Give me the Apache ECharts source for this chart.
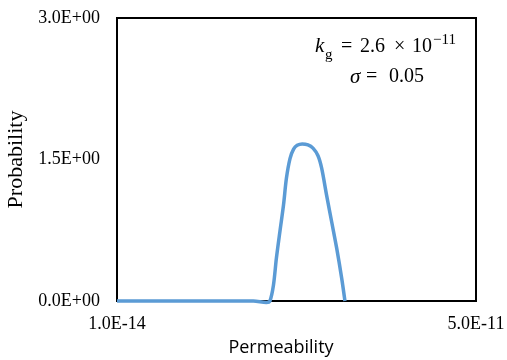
<!DOCTYPE html>
<html>
<head>
<meta charset="utf-8">
<script src="https://cdn.jsdelivr.net/npm/echarts@6/dist/echarts.min.js"></script>
<style>
  html, body { margin: 0; padding: 0; background: #fff; }
  #chart { width: 507px; height: 360px; }
</style>
</head>
<body>
<div id="chart"></div>
<script>
// permeability (m2) and probability
const permeability = [1.0e-14, 1.90e-11, 2.08e-11, 2.13e-11, 2.18e-11, 2.22e-11, 2.27e-11, 2.32e-11, 2.36e-11, 2.41e-11, 2.46e-11, 2.51e-11, 2.58e-11, 2.66e-11, 2.73e-11, 2.80e-11, 2.85e-11, 2.92e-11, 2.99e-11, 3.06e-11, 3.13e-11, 3.175e-11]
const probability = [0, 0, -0.015, 0.0, 0.17, 0.45, 0.74, 1.02, 1.30, 1.51, 1.61, 1.65, 1.665, 1.655, 1.62, 1.54, 1.41, 1.12, 0.84, 0.56, 0.24, 0.0]
const xTicks = [1.0e-14, 5.0e-11]
const yTicks = [0, 1.5, 3.0]

const fmtExp = (v) => {
  const s = Number(v).toExponential(1).toUpperCase()
  const [m, e] = s.split('E')
  const sign = e[0] === '-' ? '-' : '+'
  const digits = e.replace(/[+-]/, '').padStart(2, '0')
  return m + 'E' + sign + digits
}

const serif = '"Liberation Serif", "Times New Roman", serif'
const txt = (text, left, top, font) => ({ type: 'text', left, top, style: { text, font: font + ' ' + serif, fill: '#000' } })

var myChart = echarts.init(document.getElementById('chart'))
const option = {
  animation: false,
  grid: {
    left: 117,
    right: 31,
    top: 18,
    bottom: 59,
    outerBoundsMode: 'none',
    containLabel: false,
    show: true,
    borderColor: '#000',
    borderWidth: 2,
  },
  xAxis: {
    type: 'value',
    min: xTicks[0],
    max: xTicks[xTicks.length - 1],
    name: 'Permeability',
    nameLocation: 'middle',
    nameGap: 38,
    nameTextStyle: { fontFamily: '"Open Sans", sans-serif', fontSize: 18, color: '#000', padding: [0, 31, 0, 0] },
    axisLine: { lineStyle: { color: '#000', width: 2 } },
    axisTick: { show: false },
    splitLine: { show: false },
    axisLabel: {
      customValues: xTicks,
      formatter: fmtExp,
      fontFamily: serif,
      fontSize: 18,
      color: '#000',
      margin: 14,
      showMinLabel: true,
      showMaxLabel: true,
    },
  },
  yAxis: {
    type: 'value',
    min: yTicks[0],
    max: yTicks[yTicks.length - 1],
    interval: 1.5,
    name: 'Probability',
    nameLocation: 'middle',
    nameGap: 88,
    nameTextStyle: { fontFamily: serif, fontSize: 22, color: '#000' },
    axisLine: { show: true, lineStyle: { color: '#000', width: 2 } },
    axisTick: { show: false },
    splitLine: { show: false },
    axisLabel: {
      formatter: fmtExp,
      fontFamily: serif,
      fontSize: 18,
      color: '#000',
      margin: 17,
    },
  },
  series: [
    {
      type: 'line',
      data: permeability.map((p, i) => [p, probability[i]]),
      showSymbol: false,
      smooth: 0.3,
      clip: false,
      lineStyle: { color: '#5B9BD5', width: 3.5 },
    },
  ],
  graphic: [
    txt('k', 315, 36, 'italic 21px'),
    txt('g', 325, 48, '15px'),
    txt('=', 341, 37, '20px'),
    txt('2.6', 360, 37, '20px'),
    txt('×', 394, 37, '20px'),
    txt('10', 412, 37, '20px'),
    txt('−11', 433, 33, '15px'),
    txt('σ', 350, 67, 'italic 21px'),
    txt('=', 366, 67, '20px'),
    txt('0.05', 389, 67, '20px'),
  ],
}
myChart.setOption(option)
</script>
</body>
</html>
